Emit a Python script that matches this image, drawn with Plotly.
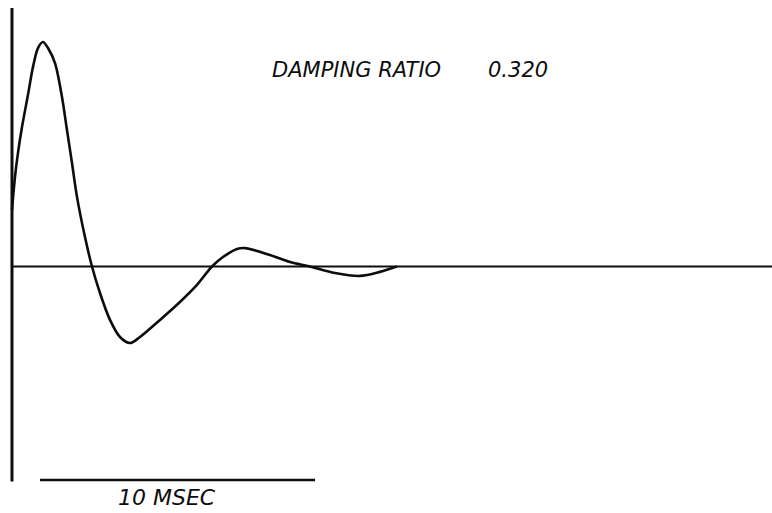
import plotly.graph_objects as go

# Damped response: time in ms, amplitude normalised to first peak
time_ms = [0.0, 0.109, 0.218, 0.364, 0.582, 0.764, 0.945, 1.127, 1.309, 1.564, 1.818,
           2.0, 2.182, 2.364, 2.655, 2.909, 3.2, 3.564, 3.927, 4.291, 4.655,
           5.382, 6.109, 6.727, 7.273, 7.673, 8.182, 8.473, 9.382, 10.109, 10.836, 11.745,
           12.655, 13.382, 14.0]
amplitude = [0.252, 0.399, 0.506, 0.621, 0.765, 0.889, 0.973, 1.0, 0.973, 0.906, 0.755,
             0.608, 0.461, 0.310, 0.131, 0.0, -0.118, -0.238, -0.314, -0.341, -0.314,
             -0.238, -0.158, -0.082, 0.0, 0.042, 0.078, 0.082, 0.051, 0.020, 0.0, -0.029,
             -0.042, -0.024, 0.0]

# Frame elements (data units)
baseline_t = [0.0, 27.64]
baseline_v = [0.0, 0.0]
axis_t = [0.0, 0.0]
axis_v = [1.151, -0.958]
scale_t = [1.02, 11.02]
scale_v = [-0.951, -0.951]

title_text = "DAMPING RATIO"
ratio_text = "0.320"
scale_text = "10 MSEC"

W, H = 772, 513
ink = "#0d0d0d"

fig = go.Figure()
fig.add_trace(go.Scatter(x=baseline_t, y=baseline_v, mode="lines",
                         line=dict(color=ink, width=2.2), hoverinfo="skip"))
fig.add_trace(go.Scatter(x=axis_t, y=axis_v, mode="lines",
                         line=dict(color=ink, width=3), hoverinfo="skip"))
fig.add_trace(go.Scatter(x=scale_t, y=scale_v, mode="lines",
                         line=dict(color=ink, width=2.6), hoverinfo="skip"))
fig.add_trace(go.Scatter(x=time_ms, y=amplitude, mode="lines",
                         line=dict(color=ink, width=2.6, shape="spline", smoothing=0.9),
                         hoverinfo="skip"))

font = dict(family="DejaVu Sans", size=21, color=ink)
fig.add_annotation(text="<i>" + title_text + "</i>", xref="paper", yref="paper",
                   x=270 / W, y=1 - 70 / H, xanchor="left", yanchor="middle",
                   showarrow=False, font=font)
fig.add_annotation(text="<i>" + ratio_text + "</i>", xref="paper", yref="paper",
                   x=486 / W, y=1 - 70 / H, xanchor="left", yanchor="middle",
                   showarrow=False, font=font)
fig.add_annotation(text="<i>" + scale_text + "</i>", xref="paper", yref="paper",
                   x=167 / W, y=1 - 497 / H, xanchor="center", yanchor="middle",
                   showarrow=False, font=dict(family="DejaVu Sans", size=22, color=ink))

fig.update_layout(
    width=W, height=H, margin=dict(l=0, r=0, t=0, b=0),
    paper_bgcolor="white", plot_bgcolor="white", showlegend=False,
    xaxis=dict(range=[-0.436, 27.64], visible=False, fixedrange=True),
    yaxis=dict(range=[-1.098, 1.187], visible=False, fixedrange=True),
)

fig.write_html("out.html", config={"displayModeBar": False},
               post_script="document.body.style.margin='0px';document.body.style.overflow='hidden';")
